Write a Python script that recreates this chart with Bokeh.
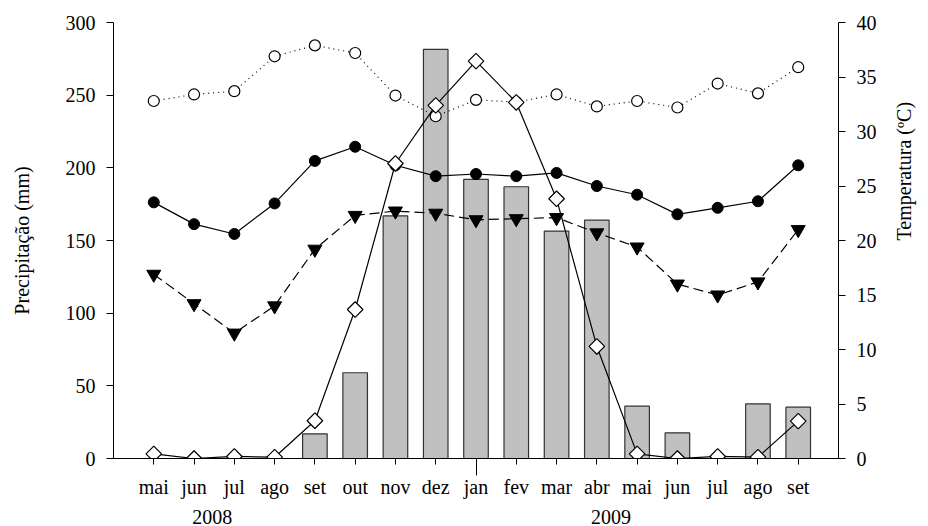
import math
from bokeh.plotting import figure
from bokeh.models import Range1d, LinearAxis, FixedTicker, ColumnDataSource
from bokeh.embed import file_html
from bokeh.resources import INLINE

months = ["mai", "jun", "jul", "ago", "set", "out", "nov", "dez", "jan",
          "fev", "mar", "abr", "mai", "jun", "jul", "ago", "set"]
years = ["2008", "2009"]
year_pos = [1.45, 11.35]

# precipitation (mm) - bars
precip = [0, 0, 0, 0, 17, 59, 167, 281.5, 192, 187, 156.5, 164, 36, 17.7, 0, 37.6, 35.3]
# second precipitation-scale series (diamonds)
precip_line = [3.2, 0, 1.4, 0.9, 26, 102.5, 203, 243, 273.4, 245, 178.7, 77.1,
               3.2, 0, 1.4, 0.9, 25.7]
# temperatures (ºC)
t_max = [32.8, 33.4, 33.7, 36.9, 37.9, 37.2, 33.3, 31.4, 32.9, 32.7, 33.4, 32.3,
         32.8, 32.2, 34.4, 33.5, 35.9]
t_mean = [23.5, 21.5, 20.6, 23.4, 27.3, 28.6, 26.9, 25.9, 26.1, 25.9, 26.2, 25.0,
          24.2, 22.4, 23.0, 23.6, 26.9]
t_min = [16.9, 14.2, 11.5, 14.0, 19.2, 22.3, 22.7, 22.5, 21.9, 22.0, 22.1, 20.7,
         19.4, 16.0, 15.0, 16.2, 21.0]

x = list(range(len(months)))
FONT = "Liberation Serif"

p = figure(width=928, height=526, x_range=Range1d(-1, 17), y_range=Range1d(0, 300),
           output_backend="svg", toolbar_location=None, x_axis_location=None,
           min_border_left=113, min_border_right=88, min_border_top=22, min_border_bottom=68)
p.extra_y_ranges = {"temp": Range1d(0, 40)}
p.outline_line_color = None
p.xgrid.visible = False
p.ygrid.visible = False
p.background_fill_color = "white"
p.border_fill_color = "white"


def style_axis(ax):
    ax.major_label_text_font = FONT
    ax.major_label_text_font_size = "20px"
    ax.major_label_text_color = "black"
    ax.axis_label_text_font = FONT
    ax.axis_label_text_font_style = "normal"
    ax.axis_label_text_font_size = "20px"
    ax.axis_label_text_color = "black"
    ax.axis_line_color = "black"
    ax.major_tick_line_color = "black"
    ax.major_tick_in = 0


# left axis
ya = p.yaxis[0]
style_axis(ya)
ya.ticker = FixedTicker(ticks=[0, 50, 100, 150, 200, 250, 300])
ya.axis_label = "Precipitação (mm)"
ya.axis_label_standoff = 30
ya.major_label_standoff = 11
ya.major_tick_out = 7
ya.minor_tick_line_color = None

# right axis
ra = LinearAxis(y_range_name="temp", ticker=FixedTicker(ticks=[0, 5, 10, 15, 20, 25, 30, 35, 40]))
style_axis(ra)
ra.major_label_standoff = 11
ra.major_tick_out = 7
ra.minor_tick_line_color = None
p.add_layout(ra, "right")

# right axis title on an otherwise empty outer axis
rt = LinearAxis(y_range_name="temp", ticker=FixedTicker(ticks=[]))
style_axis(rt)
rt.axis_line_color = None
rt.major_tick_line_color = None
rt.minor_tick_line_color = None
rt.major_tick_out = 0
rt.major_label_standoff = 0
rt.axis_label = "Temperatura (ºC)"
rt.axis_label_standoff = 24
rt.axis_label_orientation = math.pi / 2
p.add_layout(rt, "right")

# month axis
xa = LinearAxis(ticker=FixedTicker(ticks=x, minor_ticks=[8]),
                major_label_overrides={i: m for i, m in zip(x, months)})
style_axis(xa)
xa.major_label_standoff = 0
xa.major_tick_out = 6
xa.minor_tick_out = 17
xa.minor_tick_in = 0
xa.minor_tick_line_color = "black"
p.add_layout(xa, "below")

# year axis
ya2 = LinearAxis(ticker=FixedTicker(ticks=year_pos),
                 major_label_overrides={v: t for v, t in zip(year_pos, years)})
style_axis(ya2)
ya2.major_label_standoff = 9
ya2.major_tick_out = 0
ya2.major_tick_line_color = None
ya2.minor_tick_line_color = None
ya2.axis_line_color = None
p.add_layout(ya2, "below")

src = ColumnDataSource(dict(x=x, precip=precip, pl=precip_line,
                            tmax=t_max, tmean=t_mean, tmin=t_min))

p.vbar(x="x", top="precip", width=0.61, bottom=0, source=src,
       fill_color="#c0c0c0", line_color="#333333", line_width=1.2)

# max temperature - dotted, open circles
p.line("x", "tmax", source=src, y_range_name="temp", line_color="black",
       line_width=1.2, line_dash="1 4")
p.scatter("x", "tmax", source=src, y_range_name="temp", marker="circle", size=11,
          fill_color="white", line_color="black", line_width=1.2)

# mean temperature - solid, filled circles
p.line("x", "tmean", source=src, y_range_name="temp", line_color="black", line_width=1.2)
p.scatter("x", "tmean", source=src, y_range_name="temp", marker="circle", size=11,
          fill_color="black", line_color="black")

# min temperature - dashed, filled triangles
p.line("x", "tmin", source=src, y_range_name="temp", line_color="black",
       line_width=1.2, line_dash="10 5")
p.scatter("x", "tmin", source=src, y_range_name="temp", marker="inverted_triangle",
          size=14, fill_color="black", line_color="black")

# diamonds - solid
p.line("x", "pl", source=src, line_color="black", line_width=1.2)
p.scatter("x", "pl", source=src, marker="square", size=11, angle=math.pi / 4,
          fill_color="white", line_color="black", line_width=1.2)

open("out.html", "w").write(file_html(p, INLINE))
